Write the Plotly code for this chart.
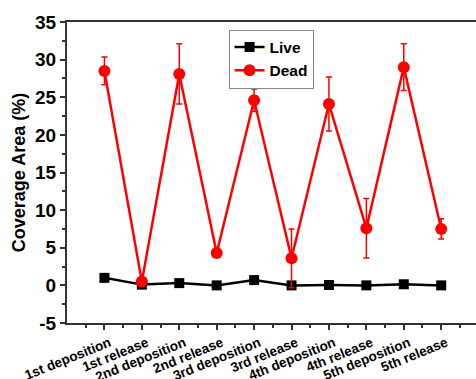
import plotly.graph_objects as go

categories = ["1st deposition", "1st release", "2nd deposition", "2nd release",
              "3rd deposition", "3rd release", "4th deposition", "4th release",
              "5th deposition", "5th release"]
live = [1.0, 0.1, 0.3, 0.0, 0.7, 0.0, 0.05, 0.0, 0.15, 0.0]
live_err = [0.2, 0.1, 0.1, 0.05, 0.4, 0.05, 0.05, 0.05, 0.1, 0.05]
dead = [28.5, 0.5, 28.1, 4.3, 24.6, 3.6, 24.1, 7.6, 29.0, 7.5]
dead_err = [1.85, 0.5, 4.0, 0.4, 1.5, 3.9, 3.6, 3.95, 3.1, 1.35]
y_ticks = [-5, 0, 5, 10, 15, 20, 25, 30, 35]

xpos = list(range(1, len(categories) + 1))
font = "Liberation Sans, Arial, sans-serif"

fig = go.Figure()
fig.add_trace(go.Scatter(
    x=xpos, y=live, name="<b>Live</b>", mode="lines+markers",
    line=dict(color="black", width=2.5),
    marker=dict(symbol="square", size=10, color="black"),
    error_y=dict(type="data", array=live_err, color="black", thickness=1.5, width=3),
))
fig.add_trace(go.Scatter(
    x=xpos, y=dead, name="<b>Dead</b>", mode="lines+markers",
    line=dict(color="#ff0000", width=2.5),
    marker=dict(symbol="circle", size=12, color="#ff0000"),
    error_y=dict(type="data", array=dead_err, color="#ff0000", thickness=1.5, width=3),
))

fig.update_layout(
    width=476, height=379,
    margin=dict(l=67, r=0, t=22, b=56),
    paper_bgcolor="white", plot_bgcolor="white",
    font=dict(family=font, color="black"),
    showlegend=True,
    legend=dict(x=0.395, y=0.975, xanchor="left", yanchor="top",
                bgcolor="white", bordercolor="#888888", borderwidth=1,
                font=dict(size=15.5, family=font), tracegroupgap=0,
                itemwidth=30),
    xaxis=dict(
        automargin=False,
        range=[0, 10.93], tickmode="array", tickvals=xpos,
        ticktext=["<b>%s</b>" % c for c in categories],
        tickangle=-22, tickfont=dict(size=13.5), ticklabelshift=5,
        showgrid=False, zeroline=False,
        showline=True, linecolor="#333333", linewidth=2, mirror=True,
        ticks="outside", ticklen=5, tickwidth=1.5, tickcolor="#333333",
        minor=dict(ticks="outside", ticklen=3, tickwidth=1.5, tickcolor="#333333",
                   tickvals=[x + 0.5 for x in range(0, 11)]),
    ),
    yaxis=dict(
        automargin=False,
        range=[-5, 35], tickvals=y_ticks,
        ticktext=["<b>%d</b>" % v for v in y_ticks],
        tickfont=dict(size=19),
        title=dict(text="<b>Coverage Area (%)</b>", font=dict(size=18), standoff=5),
        showgrid=False, zeroline=False,
        showline=True, linecolor="#333333", linewidth=2,
        ticks="outside", ticklen=5, tickwidth=1.5, tickcolor="#333333",
        minor=dict(ticks="outside", ticklen=3, tickwidth=1.5, tickcolor="#333333",
                   dtick=2.5, tick0=-5),
    ),
)

fig.write_html("out.html", config={"displayModeBar": False},
               post_script="document.body.style.margin='0';document.body.style.overflow='hidden';")
